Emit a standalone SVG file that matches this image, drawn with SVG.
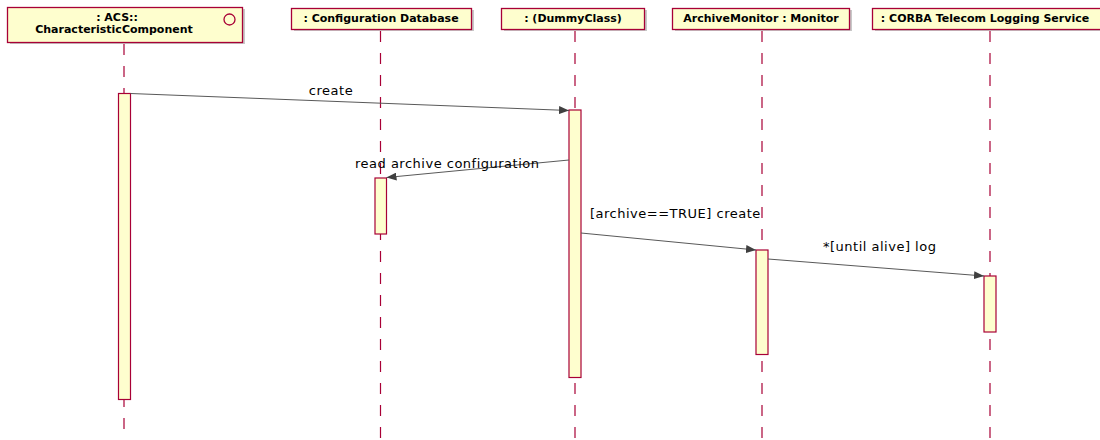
<svg xmlns="http://www.w3.org/2000/svg" width="1100" height="440" viewBox="0 0 1100 440">
<style>
.hdr{fill:#fefece;stroke:#a80036;stroke-width:1.3}
.shd{fill:#c8c8c8;stroke:none}
.ttl{font-family:"DejaVu Sans",sans-serif;font-size:11px;font-weight:bold;fill:#000;text-anchor:middle}
.life{stroke:#a80036;stroke-width:1.2;stroke-dasharray:11 11;fill:none}
.act{fill:#fefece;stroke:#a80036;stroke-width:1.2}
.msg{stroke:#595959;stroke-width:1;fill:none;marker-end:url(#ah)}
.lbl{font-family:"DejaVu Sans",sans-serif;font-size:13px;letter-spacing:0.5px;fill:#000}
</style>
<defs>
<marker id="ah" viewBox="0 0 10 8" refX="10" refY="4" markerWidth="10" markerHeight="8" markerUnits="userSpaceOnUse" orient="auto">
<path d="M0,0 L10,4 L0,8 Z" fill="#404040"/>
</marker>
</defs>
<g id="lifelines">
<line class="life" x1="124" y1="44" x2="124" y2="440"/>
<line class="life" x1="380.5" y1="31" x2="380.5" y2="440"/>
<line class="life" x1="575" y1="31" x2="575" y2="440"/>
<line class="life" x1="762" y1="31" x2="762" y2="440"/>
<line class="life" x1="990" y1="31" x2="990" y2="440"/>
</g>
<g id="n1">
<rect class="shd" x="10" y="9" width="235" height="35"/>
<rect class="hdr" x="7.5" y="7.5" width="235" height="35"/>
<text class="ttl" x="117" y="21">: ACS::</text>
<text class="ttl" x="114" y="33">CharacteristicComponent</text>
<circle cx="229.5" cy="19.5" r="5.5" fill="none" stroke="#a80036" stroke-width="1.3"/>
</g>
<g id="n2">
<rect class="shd" x="294" y="10" width="180" height="21"/>
<rect class="hdr" x="291.5" y="8.5" width="180" height="21"/>
<text class="ttl" x="381" y="22">: Configuration Database</text>
</g>
<g id="n3">
<rect class="shd" x="504" y="10" width="143" height="21"/>
<rect class="hdr" x="501.5" y="8.5" width="143" height="21"/>
<text class="ttl" x="573" y="22">: (DummyClass)</text>
</g>
<g id="n4">
<rect class="shd" x="675" y="10" width="177" height="21"/>
<rect class="hdr" x="672.5" y="8.5" width="177" height="21"/>
<text class="ttl" x="761" y="22">ArchiveMonitor : Monitor</text>
</g>
<g id="n5">
<rect class="shd" x="875" y="10" width="230" height="21"/>
<rect class="hdr" x="872.5" y="8.5" width="230" height="21"/>
<text class="ttl" x="985" y="22">: CORBA Telecom Logging Service</text>
</g>
<g id="activations">
<rect class="act" x="118.5" y="93.5" width="12" height="306"/>
<rect class="act" x="375" y="178" width="11.5" height="56"/>
<rect class="act" x="569" y="110" width="12" height="267.5"/>
<rect class="act" x="756" y="250" width="12" height="104.5"/>
<rect class="act" x="984" y="276" width="12" height="56"/>
</g>
<g id="connectors">
<line class="msg" x1="130.5" y1="93.5" x2="569" y2="110.5"/>
<line class="msg" x1="569" y1="160" x2="386.5" y2="177.5"/>
<line class="msg" x1="581" y1="233" x2="756" y2="250"/>
<line class="msg" x1="768" y1="259" x2="984" y2="276"/>
</g>
<g id="labels">
<text class="lbl" x="331" y="95" text-anchor="middle">create</text>
<text class="lbl" x="355" y="168">read archive configuration</text>
<text class="lbl" x="590" y="218">[archive==TRUE] create</text>
<text class="lbl" x="823" y="251">*[until alive] log</text>
</g>
</svg>
